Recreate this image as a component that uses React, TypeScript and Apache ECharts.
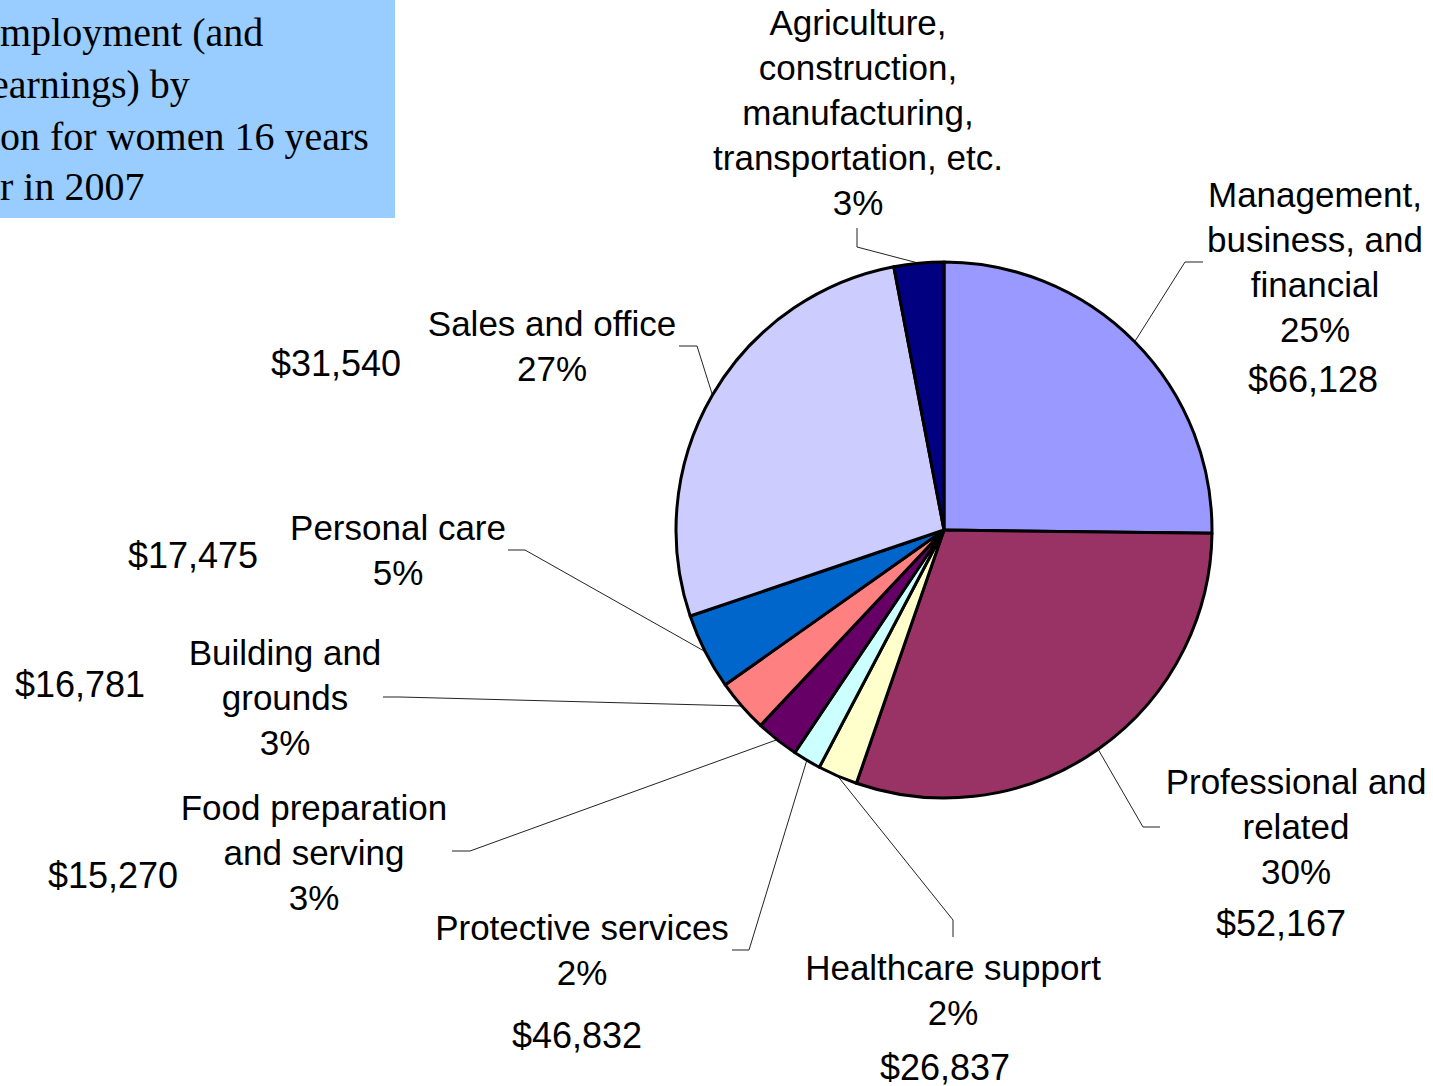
import React, { useEffect, useRef } from "react";
import * as echarts from "echarts";

// ---------- data ----------
const categories = [
  "Management,\nbusiness, and\nfinancial",
  "Professional and\nrelated",
  "Healthcare support",
  "Protective services",
  "Food preparation\nand serving",
  "Building and\ngrounds",
  "Personal care",
  "Sales and office",
  "Agriculture,\nconstruction,\nmanufacturing,\ntransportation, etc.",
];
const shares = [25.2, 30.1, 2.4, 1.7, 2.6, 3.2, 4.6, 27.2, 3.0];
const earnings = ["$66,128", "$52,167", "$26,837", "$46,832", "$15,270", "$16,781", "$17,475", "$31,540", ""];
const colors = ["#9999FF", "#993366", "#FFFFCC", "#CCFFFF", "#660066", "#FF8080", "#0066CC", "#CCCCFF", "#000080"];
const titleLines = ["mployment (and", "earnings) by", "on for women 16 years", "r in 2007"];

// ---------- layout ----------
const CX = 944;
const CY = 530;
const R = 268;
const labelPos = [
  [1315, 262], [1296, 826], [953, 990], [582, 950], [314, 852],
  [285, 697], [398, 550], [552, 346], [858, 112],
];
const leaderPts = [
  [[1185, 262], [1203, 262]],
  [[1143, 827], [1160, 827]],
  [[953, 920], [953, 937]],
  [[749, 950], [732, 950]],
  [[470, 851], [452, 851]],
  [[400, 697], [383, 697]],
  [[525, 550], [508, 550]],
  [[697, 346], [679, 346]],
  [[857, 247], [857, 228]],
];
const earnPos = [
  [1313, 379], [1281, 923], [945, 1067], [577, 1035], [113, 875],
  [80, 684], [193, 555], [336, 363], [0, 0],
];
const titleX = [0, -9, 0, 0];
const titleY = [32, 84, 136, 186];

function edgePoint(i: number): number[] {
  const total = shares.reduce((a, b) => a + b, 0);
  let before = 0;
  for (let k = 0; k < i; k++) before += shares[k];
  const mid = ((before + shares[i] / 2) / total) * Math.PI * 2;
  return [CX + R * Math.sin(mid), CY - R * Math.cos(mid)];
}

export default function App() {
  const ref = useRef<HTMLDivElement>(null);
  useEffect(() => {
    if (!ref.current) return;
    const chart = echarts.init(ref.current, undefined, { renderer: "svg" });
    const graphics: any[] = [
      {
        type: "rect",
        shape: { x: 0, y: 0, width: 395, height: 218 },
        style: { fill: "#99CCFF" },
        z: 1,
      },
      ...titleLines.map((t, i) => ({
        type: "text",
        x: titleX[i],
        y: titleY[i],
        z: 2,
        style: {
          text: t,
          fontFamily: '"Liberation Serif", serif',
          fontSize: 40,
          fill: "#000",
          align: "left",
          verticalAlign: "middle",
        },
      })),
      ...earnings
        .map((t, i) => ({ t, i }))
        .filter((e) => e.t !== "")
        .map(({ t, i }) => ({
          type: "text",
          x: earnPos[i][0],
          y: earnPos[i][1],
          z: 2,
          style: {
            text: t,
            fontFamily: '"Liberation Sans", Arial, sans-serif',
            fontSize: 36,
            fill: "#000",
            align: "center",
            verticalAlign: "middle",
          },
        })),
    ];
    chart.setOption({
      animation: false,
      backgroundColor: "#fff",
      graphic: graphics,
      series: [
        {
          type: "pie",
          center: [CX, CY],
          radius: R,
          startAngle: 90,
          clockwise: true,
          avoidLabelOverlap: false,
          silent: true,
          data: categories.map((name, i) => ({
            name,
            value: shares[i],
            itemStyle: { color: colors[i] },
          })),
          itemStyle: { borderColor: "#000", borderWidth: 3 },
          label: {
            show: true,
            position: "outside",
            color: "#000",
            fontFamily: '"Liberation Sans", Arial, sans-serif',
            fontSize: 35,
            lineHeight: 45,
            align: "center",
            formatter: (p: any) => `${p.name}\n${Math.round(p.percent)}%`,
          },
          labelLine: {
            show: true,
            length: 10,
            length2: 10,
            lineStyle: { color: "#222", width: 1 },
          },
          labelLayout: (params: any) => {
            const i = params.dataIndex;
            const p0 =
              params.labelLinePoints && params.labelLinePoints[0]
                ? params.labelLinePoints[0]
                : edgePoint(i);
            return {
              x: labelPos[i][0],
              y: labelPos[i][1],
              align: "center",
              verticalAlign: "middle",
              labelLinePoints: [p0, ...leaderPts[i]],
            };
          },
          emphasis: { disabled: true },
        },
      ],
    });
    return () => chart.dispose();
  }, []);
  return (
    <div
      ref={ref}
      style={{ position: "fixed", left: 0, top: 0, width: 1433, height: 1086 }}
    />
  );
}
